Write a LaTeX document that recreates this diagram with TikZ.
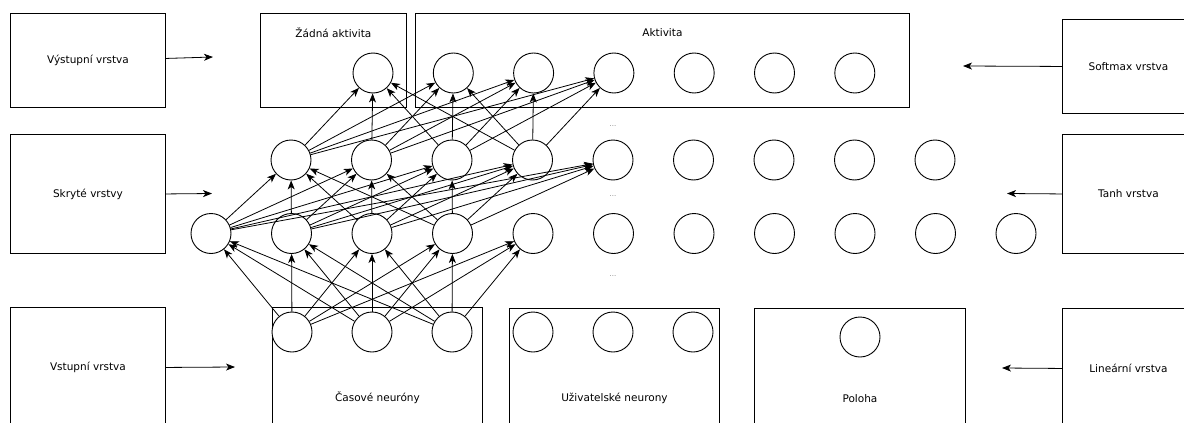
\documentclass[tikz,border=0pt]{standalone}
\usepackage{fontspec}
\setmainfont{DejaVu Sans}
\usetikzlibrary{arrows.meta}
\begin{document}
\begin{tikzpicture}[x=1pt,y=-1pt,
  every node/.style={font=\fontsize{10.5}{12}\selectfont},
  neuron/.style={circle,draw,line width=0.9pt,minimum size=40pt,inner sep=0pt,fill=white},
  layerbox/.style={draw,line width=0.9pt,inner sep=0pt,anchor=north west},
  link/.style={-{Stealth[length=9pt,width=7pt,inset=2.5pt]},line width=0.8pt},
  dots/.style={font=\fontsize{7}{8}\selectfont,text=gray}]
\clip (0,0) rectangle (1184,423);

% legend boxes on the left
\node[layerbox,minimum width=155pt,minimum height=94pt] (vyst) at (10,13) {Výstupní vrstva};
\node[layerbox,minimum width=155pt,minimum height=119pt] (skry) at (10,134) {Skryté vrstvy};
\node[layerbox,minimum width=155pt,minimum height=120pt] (vstup) at (10,307) {Vstupní vrstva};

% legend boxes on the right
\node[layerbox,minimum width=132pt,minimum height=94pt] (soft) at (1062,19) {Softmax vrstva};
\node[layerbox,minimum width=132pt,minimum height=119pt] (tanh) at (1062,134) {Tanh vrstva};
\node[layerbox,minimum width=132pt,minimum height=120pt] (lin) at (1062,308) {Lineární vrstva};

% group boxes of the output layer
\node[layerbox,minimum width=146pt,minimum height=94pt,
      label={[anchor=center,yshift=-20pt]north:Žádná aktivita}] (zadna) at (260,13) {};
\node[layerbox,minimum width=494pt,minimum height=94pt,
      label={[anchor=center,yshift=-20pt]north:Aktivita}] (akt) at (415,13) {};

% group boxes of the input layer
\node[layerbox,minimum width=210pt,minimum height=180pt] (cas) at (272,307) {Časové neuróny};
\node[layerbox,minimum width=210pt,minimum height=180pt] (uziv) at (509,308) {Uživatelské neurony};
\node[layerbox,minimum width=211pt,minimum height=180pt] (pol) at (754,308) {Poloha};

% pointers from legends to layers
\coordinate (vystTip) at (213,57);
\coordinate (skryTip) at (212,193.5);
\coordinate (vstupTip) at (235,367);
\coordinate (softTip) at (963,66);
\coordinate (tanhTip) at (1007,193.5);
\coordinate (linTip) at (1002,368);
\draw[link] ([yshift=2pt]vyst.east) -- (vystTip);
\draw[link] (skry.east) -- (skryTip);
\draw[link] (vstup.east) -- (vstupTip);
\draw[link] (soft.west) -- (softTip);
\draw[link] (tanh.west) -- (tanhTip);
\draw[link] (lin.west) -- (linTip);

% neurons
\foreach \k in {0,...,6} \node[neuron] (out-\k) at ({373+80.3*\k},73) {};
\foreach \k in {0,...,8} \node[neuron] (hb-\k) at ({291+80.5*\k},160) {};
\foreach \k in {0,...,10} \node[neuron] (ha-\k) at ({211+80.5*\k},233.5) {};
\foreach \k in {0,1,2} \node[neuron] (in-\k) at ({292+80*\k},332) {};
\foreach \k in {0,1,2} \node[neuron] (usr-\k) at ({533+80*\k},332) {};
\node[neuron] (pos) at (860,337) {};

% ellipses between layers
\node[dots] (dotsA) at (613,126) {...};
\node[dots] (dotsB) at (613,196) {...};
\node[dots] (dotsC) at (613,276) {...};

% connections
\foreach \i in {0,1,2} \foreach \j in {0,...,4} \draw[link] (in-\i) -- (ha-\j);
\foreach \i in {0,...,3} \foreach \j in {0,...,4} \draw[link] (ha-\i) -- (hb-\j);
\foreach \i in {0,...,3} \foreach \j in {0,...,3} \draw[link] (hb-\i) -- (out-\j);
\end{tikzpicture}
\end{document}
